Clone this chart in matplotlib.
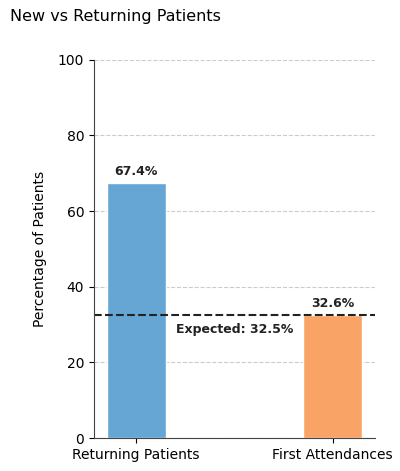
import matplotlib
matplotlib.use('Agg')
import matplotlib.pyplot as plt

# data
categories = ['Returning Patients', 'First Attendances']
percentages = [67.4, 32.6]
expected = 32.5
colors = ['#66a6d4', '#f9a466']

fig, ax = plt.subplots(figsize=(4, 4.71), dpi=100)

bars = ax.bar(categories, percentages, width=0.3, color=colors, edgecolor='white', linewidth=1)
for b, v in zip(bars, percentages):
    ax.text(b.get_x() + b.get_width() / 2, v + 1.3, f'{v}%', ha='center', va='bottom',
            fontsize=9, fontweight='bold', color='#222222')

ax.axhline(expected, color='#222222', linestyle='--', linewidth=1.5)
ax.text(0.5, expected - 2.2, f'Expected: {expected}%', ha='center', va='top',
        fontsize=9, fontweight='bold', color='#222222')

ax.set_ylim(0, 100)
ax.set_ylabel('Percentage of Patients', fontsize=10, labelpad=8)
ax.tick_params(labelsize=10)
ax.yaxis.grid(True, linestyle='--', color='#cccccc', linewidth=0.8)
ax.set_axisbelow(True)
ax.spines['top'].set_visible(False)
ax.spines['right'].set_visible(False)
ax.spines['left'].set_color('#444444')
ax.spines['bottom'].set_color('#444444')

fig.text(0.025, 0.965, 'New vs Returning Patients', fontsize=11.5, ha='left', va='center')
fig.subplots_adjust(left=0.235, right=0.9375, top=0.873, bottom=0.07)
fig.savefig('out.png', dpi=100)
